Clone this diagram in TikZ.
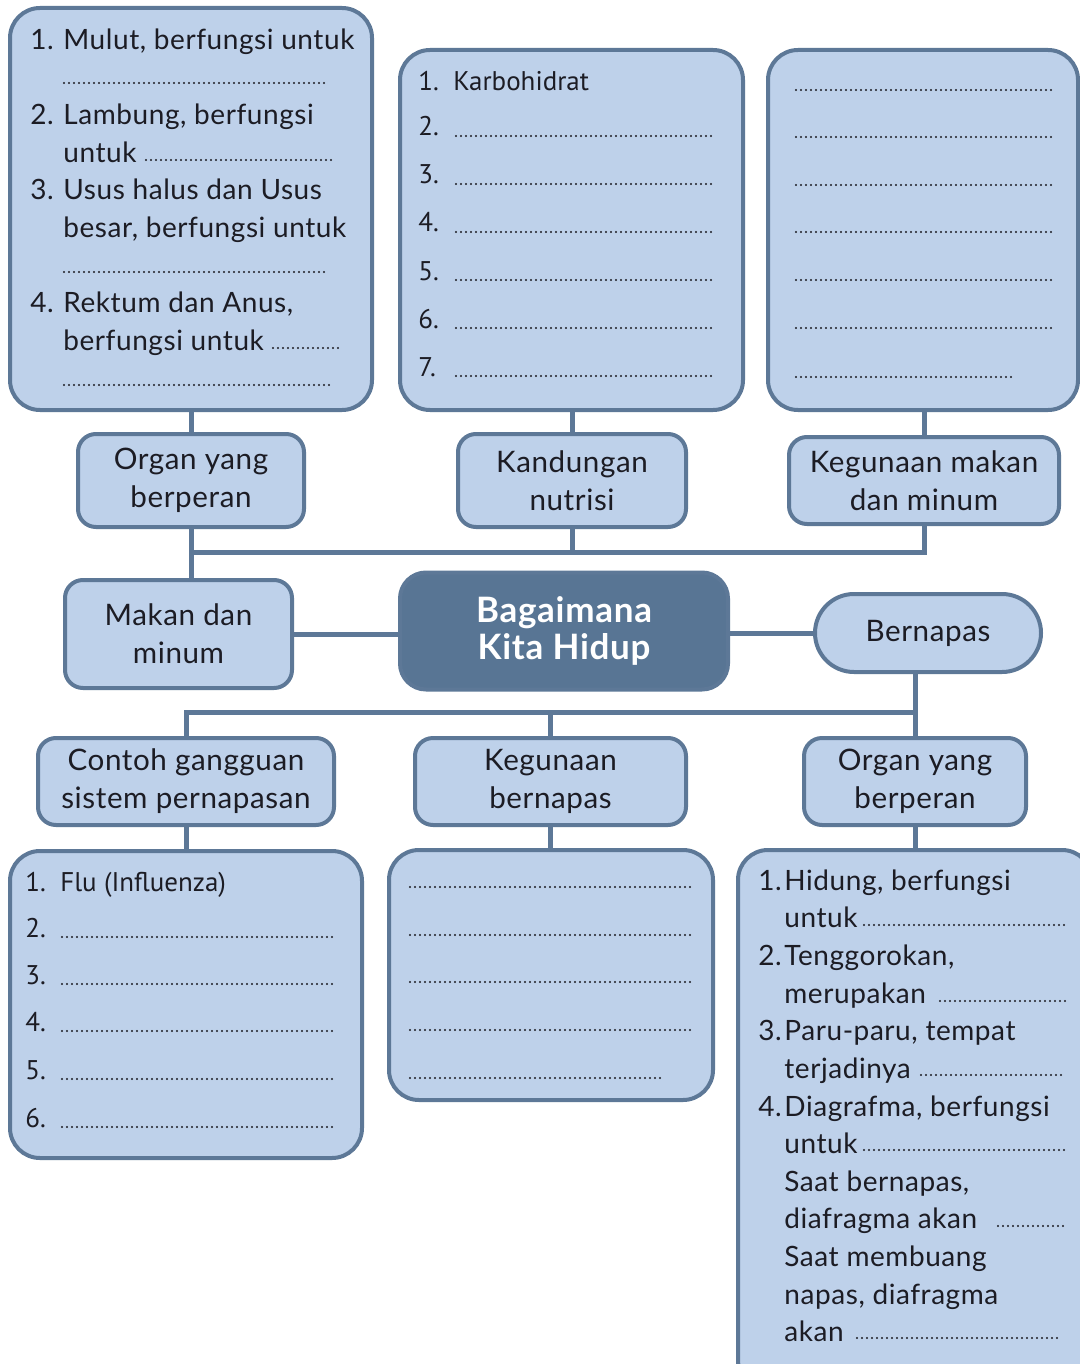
\documentclass[tikz,border=0pt]{standalone}
\usepackage{fontspec}
\setmainfont{Lato}[LetterSpace=2]
\newfontfamily\listfont{PT Sans}
\definecolor{boxfill}{HTML}{BED1EA}
\definecolor{edge}{HTML}{5D7897}
\definecolor{hub}{HTML}{587594}
\definecolor{ink}{HTML}{1C1C24}
\begin{document}
\begin{tikzpicture}[x=0.5pt,y=-0.5pt,
  box/.style={draw=edge, fill=boxfill, line width=2pt, rounded corners=15pt, inner sep=0pt},
  lbl/.style={draw=edge, fill=boxfill, line width=2pt, rounded corners=9pt, align=center,
    inner sep=0pt, text=ink, font=\fontsize{14.8}{19}\selectfont},
  conn/.style={draw=edge, line width=2.5pt},
  txt/.style={anchor=base west, inner sep=0pt, text=ink, font=\fontsize{14}{19}\selectfont},
  ltxt/.style={anchor=base west, inner sep=0pt, text=ink, font=\listfont\fontsize{13.5}{16}\selectfont},
  dotline/.style={draw=ink, line width=1.1pt, dash pattern=on 0pt off 2.5pt, line cap=round}]
\clip (0,0) rectangle (1080,1364);
\fill[white] (0,0) rectangle (1080,1364);

% ---- upper branch: food and drink ----
\node[box, minimum width=181pt, minimum height=201pt] (bA) at (191,209) {};
\node[box, minimum width=171.5pt, minimum height=180pt] (bB) at (571.5,230) {};
\node[box, minimum width=155pt, minimum height=180pt] (bC) at (923,230) {};

\node[lbl, minimum width=113pt, minimum height=46.5pt] (lA) at (191,480.5) {Organ yang\\berperan};
\node[lbl, minimum width=114pt, minimum height=46.5pt] (lB) at (572,480.5) {Kandungan\\nutrisi};
\node[lbl, minimum width=135pt, minimum height=43.5pt] (lC) at (924,480.5) {Kegunaan makan\\dan minum};

% ---- centre row ----
\node[lbl, minimum width=113.5pt, minimum height=54pt] (mk) at (178.5,634) {Makan dan\\minum};
\node[draw=edge, fill=hub, line width=2pt, rounded corners=13pt, minimum width=164pt,
  minimum height=58.5pt, align=center, text=white, inner sep=0pt,
  font=\bfseries\fontsize{17.5}{18.5}\selectfont] (ctr) at (564,631) {Bagaimana\\Kita Hidup};
\node[lbl, rounded corners=19.5pt, minimum width=113pt, minimum height=39pt] (bn) at (928,633) {Bernapas};

% ---- lower branch: breathing ----
\node[lbl, minimum width=148pt, minimum height=43.5pt] (lD) at (186,781.5) {Contoh gangguan\\sistem pernapasan};
\node[lbl, minimum width=135.5pt, minimum height=43.5pt] (lE) at (550.5,781.5) {Kegunaan\\bernapas};
\node[lbl, minimum width=111pt, minimum height=43.5pt] (lF) at (915,781.5) {Organ yang\\berperan};

\node[box, minimum width=176pt, minimum height=153.5pt] (bD) at (186,1004.5) {};
\node[box, minimum width=162pt, minimum height=125pt] (bE) at (551,975) {};
\node[box, minimum width=177pt, minimum height=270pt] (bF) at (915,1120) {};

% ---- connectors ----
\coordinate (upbar) at (0,552);
\coordinate (lowbar) at (0,712);
\draw[conn] (bA.south -| lA.north) -- (lA.north);
\draw[conn] (bB.south -| lB.north) -- (lB.north);
\draw[conn] (bC.south -| lC.north) -- (lC.north);
\draw[conn] (lA.south) -- (lA.south |- mk.north);
\draw[conn] (lB.south) -- (lB.south |- upbar);
\draw[conn] (lC.south) |- (lA.south |- upbar);
\draw[conn] (mk.east) -- (mk.east -| ctr.west);
\draw[conn] (ctr.east |- bn.west) -- (bn.west);
\draw[conn] (lF.north |- bn.south) -- (lF.north);
\draw[conn] (lF.north |- lowbar) -- (lD.north |- lowbar) -- (lD.north);
\draw[conn] (lE.north |- lowbar) -- (lE.north);
\draw[conn] (lD.south) -- (lD.south |- bD.north);
\draw[conn] (lE.south) -- (lE.south |- bE.north);
\draw[conn] (lF.south) -- (lF.south |- bF.north);

% ---- digestive organs ----
\node[txt] (a1n) at (30,50) {1.};
\node[txt] (a1) at (63,50) {Mulut, berfungsi untuk};
\draw[dotline] (64,83) -- (328,83);
\node[txt] (a2n) at (30,125) {2.};
\node[txt] (a2) at (63,125) {Lambung, berfungsi};
\node[txt] (a2b) at (63,163) {untuk};
\draw[dotline] (146,160) -- (333,160);
\node[txt] (a3n) at (30,200) {3.};
\node[txt] (a3) at (63,200) {Usus halus dan Usus};
\node[txt] (a3b) at (63,238) {besar, berfungsi untuk};
\draw[dotline] (64,272) -- (328,272);
\node[txt] (a4n) at (30,312) {4.};
\node[txt] (a4) at (63,312) {Rektum dan Anus,};
\node[txt] (a4b) at (63,350) {berfungsi untuk};
\draw[dotline] (273,348) -- (342,348);
\draw[dotline] (64,385) -- (333,385);

% ---- nutrients ----
\node[ltxt] (b1n) at (418,91) {1.};
\node[ltxt] (b1) at (453,91) {Karbohidrat};
\foreach \k/\yy in {2/136,3/184,4/232,5/280,6/328,7/376}{
  \node[ltxt] (b\k n) at (418,\yy) {\k.};
  \draw[dotline] (456,\yy) -- (715,\yy);
}

% ---- uses of food and drink ----
\foreach \yy in {90,137,185,232,280,328}{
  \draw[dotline] (796,\yy) -- (1052,\yy);
}
\draw[dotline] (796,377) -- (1012,377);

% ---- respiratory disorders ----
\node[ltxt] (d1n) at (25,891) {1.};
\node[ltxt] (d1) at (60,891) {Flu (Influenza)};
\foreach \k/\yy in {2/937,3/984,4/1031,5/1079,6/1127}{
  \node[ltxt] (d\k n) at (25,\yy) {\k.};
  \draw[dotline] (62,\yy) -- (334,\yy);
}

% ---- uses of breathing ----
\foreach \yy in {887,935,982,1030}{
  \draw[dotline] (410,\yy) -- (693,\yy);
}
\draw[dotline] (410,1078) -- (664,1078);

% ---- respiratory organs ----
\node[txt] (f1n) at (758,890) {1.};
\node[txt] (f1) at (784,890) {Hidung, berfungsi};
\node[txt] (f1b) at (784,927) {untuk};
\draw[dotline] (864,925) -- (1067,925);
\node[txt] (f2n) at (758,965) {2.};
\node[txt] (f2) at (784,965) {Tenggorokan,};
\node[txt] (f2b) at (784,1003) {merupakan};
\draw[dotline] (940,1001) -- (1068,1001);
\node[txt] (f3n) at (758,1040) {3.};
\node[txt] (f3) at (784,1040) {Paru-paru, tempat};
\node[txt] (f3b) at (784,1078) {terjadinya};
\draw[dotline] (921,1075) -- (1063,1075);
\node[txt] (f4n) at (758,1116) {4.};
\node[txt] (f4) at (784,1116) {Diagrafma, berfungsi};
\node[txt] (f4b) at (784,1153) {untuk};
\draw[dotline] (864,1150) -- (1067,1150);
\node[txt] (f5) at (784,1191) {Saat bernapas,};
\node[txt] (f5b) at (784,1228) {diafragma akan};
\draw[dotline] (998,1226) -- (1067,1226);
\node[txt] (f6) at (784,1266) {Saat membuang};
\node[txt] (f6b) at (784,1304) {napas, diafragma};
\node[txt] (f6c) at (784,1341) {akan};
\draw[dotline] (857,1338) -- (1058,1338);
\end{tikzpicture}
\end{document}
